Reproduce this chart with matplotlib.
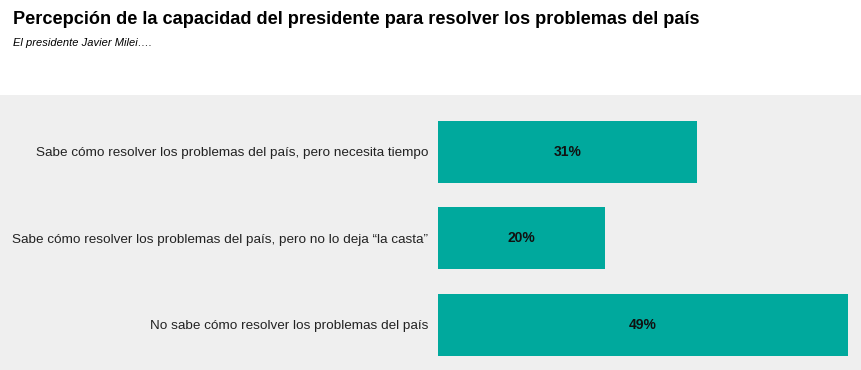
import matplotlib.pyplot as plt
from matplotlib.patches import Rectangle

plt.rcParams['font.family'] = ['Liberation Sans', 'DejaVu Sans']

categories = [
    "Sabe cómo resolver los problemas del país, pero necesita tiempo",
    "Sabe cómo resolver los problemas del país, pero no lo deja “la casta”",
    "No sabe cómo resolver los problemas del país",
]
values = [31, 20, 49]

teal = '#00A99D'
panel = '#EFEFEF'

fig = plt.figure(figsize=(8.62, 3.7), dpi=100)
fig.patch.set_facecolor('white')

# gray panel behind the bars, full width
fig.add_artist(Rectangle((0, 0), 1, 275 / 370, transform=fig.transFigure,
                         facecolor=panel, edgecolor='none', zorder=0))

fig.text(13 / 862, 1 - 20 / 370, "Percepción de la capacidad del presidente para resolver los problemas del país",
         fontsize=13.1, fontweight='bold', va='center', ha='left')
fig.text(13 / 862, 1 - 43 / 370, "El presidente Javier Milei….",
         fontsize=8, style='italic', va='center', ha='left')

ax = fig.add_axes([438 / 862, 0, 424 / 862, 275 / 370])
ax.set_facecolor('none')
y = list(range(len(categories)))
bars = ax.barh(y, values, height=0.717, color=teal)
for b, v in zip(bars, values):
    ax.text(b.get_width() / 2, b.get_y() + b.get_height() / 2, f"{v}%",
            ha='center', va='center', fontsize=10, fontweight='bold', color='#111111')

ax.set_xlim(0, 50.7)
ax.set_ylim(2.52, -0.653)
ax.set_yticks(y)
ax.set_yticklabels(categories, fontsize=9.7, color='#222222')
ax.tick_params(axis='y', length=0, pad=7)
ax.set_xticks([])
for s in ax.spines.values():
    s.set_visible(False)

fig.savefig('out.png', dpi=100)
